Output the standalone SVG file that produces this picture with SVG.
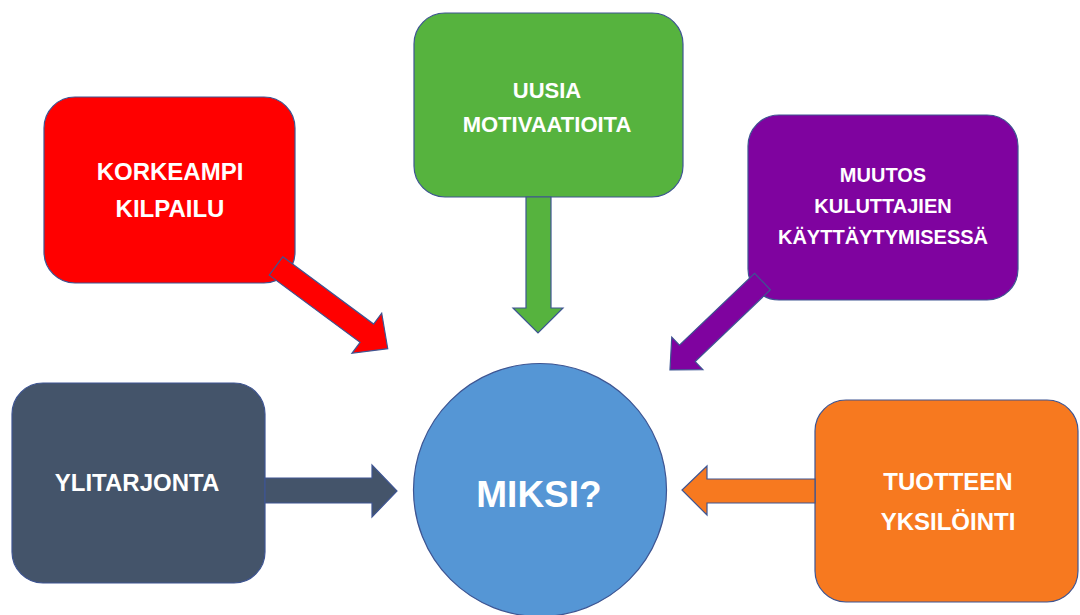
<svg xmlns="http://www.w3.org/2000/svg" width="1080" height="615" viewBox="0 0 1080 615">
<style>
.sh{stroke:#3E5592;stroke-width:1.2;stroke-linejoin:miter}
.t{font-family:"Liberation Sans",Arial,sans-serif;font-weight:bold;fill:#FFFFFF;text-anchor:middle}
.red{fill:#FF0000}.green{fill:#56B33E}.purple{fill:#7F039F}.gray{fill:#44546A}.orange{fill:#F7791F}.blue{fill:#5596D5}
</style>
<rect width="1080" height="615" fill="#FFFFFF"/>
<g id="node-korkeampi">
<rect class="sh red" x="44" y="97" width="251" height="186" rx="31" ry="31"/>
<text class="t" x="170" y="180" font-size="24">KORKEAMPI</text>
<text class="t" x="170" y="217" font-size="24">KILPAILU</text>
</g>
<g id="node-uusia">
<rect class="sh green" x="414" y="13" width="269" height="184" rx="31" ry="31"/>
<text class="t" x="547" y="98" font-size="22">UUSIA</text>
<text class="t" x="547" y="132" font-size="22">MOTIVAATIOITA</text>
</g>
<g id="node-muutos">
<rect class="sh purple" x="748" y="115" width="270" height="185" rx="31" ry="31"/>
<text class="t" x="883" y="182" font-size="20">MUUTOS</text>
<text class="t" x="883" y="213" font-size="20">KULUTTAJIEN</text>
<text class="t" x="883" y="244" font-size="20">KÄYTTÄYTYMISESSÄ</text>
</g>
<g id="node-ylitarjonta">
<rect class="sh gray" x="12" y="383" width="253" height="200" rx="31" ry="31"/>
<text class="t" x="137" y="491" font-size="24">YLITARJONTA</text>
</g>
<g id="node-tuotteen">
<rect class="sh orange" x="815" y="400" width="263" height="202" rx="31" ry="31"/>
<text class="t" x="948" y="490" font-size="24">TUOTTEEN</text>
<text class="t" x="948" y="530" font-size="24">YKSILÖINTI</text>
</g>
<g id="node-miksi">
<circle class="sh blue" cx="540" cy="490" r="126.5"/>
<text class="t" x="539" y="507" font-size="37">MIKSI?</text>
</g>
<g id="connectors">
<polygon class="sh red" transform="translate(276,266) rotate(36.5)" points="0,-11.4 113,-11.4 113,-25 139,0 113,25 113,11.4 0,11.4"/>
<polygon class="sh green" points="526,197 551,197 551,308 563,308 538,333 513,308 526,308"/>
<polygon class="sh purple" transform="translate(762.5,281.5) rotate(136.3)" points="0,-11.4 104,-11.4 104,-22.5 128,0 104,22.5 104,11.4 0,11.4"/>
<polygon class="sh gray" points="265,478 372,478 372,465 397,491 372,517 372,503 265,503"/>
<polygon class="sh orange" points="815,479 707,479 707,466 682,490 707,515 707,503 815,503"/>
</g>
</svg>
